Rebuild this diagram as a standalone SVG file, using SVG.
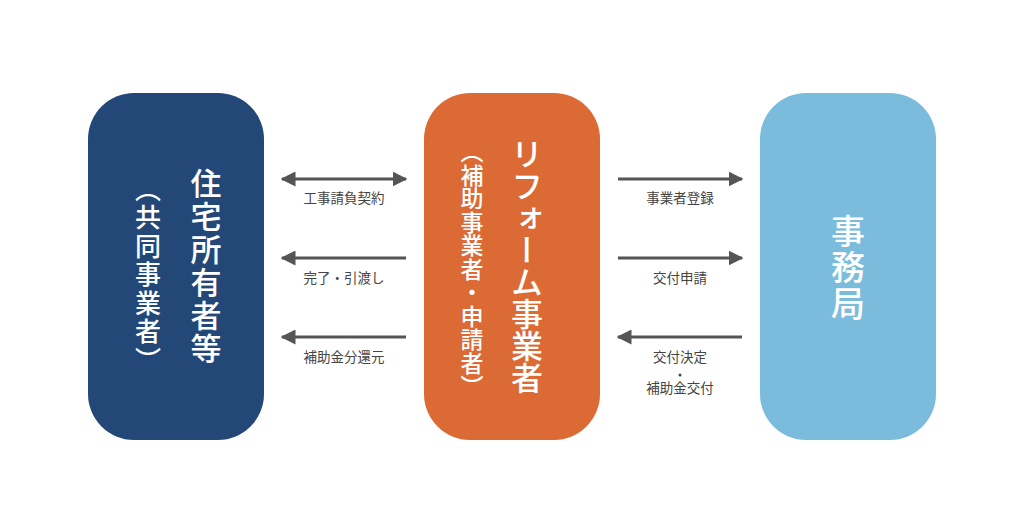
<svg xmlns="http://www.w3.org/2000/svg" width="1024" height="532" viewBox="0 0 1024 532">
<style>
.v{writing-mode:vertical-rl;fill:#fff;font-family:"Noto Sans CJK JP",sans-serif;font-weight:500}
.l{font-family:"Noto Sans CJK JP",sans-serif;font-size:13.5px;fill:#444;text-anchor:middle}
.c{stroke:#555;stroke-width:3;fill:none}
</style>
<defs>
<marker id="a" viewBox="0 0 10 10" refX="9" refY="5" markerWidth="5" markerHeight="5" orient="auto-start-reverse" markerUnits="strokeWidth"><path d="M0,0L10,5L0,10z" fill="#555"/></marker>
</defs>
<rect width="1024" height="532" fill="#fff"/>
<g id="owner"><rect x="88" y="93" width="176" height="347" rx="46" fill="#234878"/>
<text class="v" x="206" y="168" font-size="31" letter-spacing="2">住宅所有者等</text>
<text class="v" x="148" y="176" font-size="26" letter-spacing="2.5">（共同事業者）</text></g>
<g id="reform"><rect x="424" y="93" width="176" height="347" rx="46" fill="#dc6a35"/>
<text class="v" x="527" y="138" font-size="32">リフォーム事業者</text>
<text class="v" x="472" y="140" font-size="23" letter-spacing="0.5">（補助事業者・申請者）</text></g>
<g id="office"><rect x="760" y="93" width="176" height="347" rx="46" fill="#7bbcdd"/>
<text class="v" x="848" y="214" font-size="34" letter-spacing="2">事務局</text></g>
<g id="connectors">
<line class="c" x1="282" y1="179" x2="406" y2="179" marker-start="url(#a)" marker-end="url(#a)"/>
<line class="c" x1="282" y1="258" x2="406" y2="258" marker-start="url(#a)"/>
<line class="c" x1="282" y1="337" x2="406" y2="337" marker-start="url(#a)"/>
<line class="c" x1="618" y1="179" x2="742" y2="179" marker-end="url(#a)"/>
<line class="c" x1="618" y1="258" x2="742" y2="258" marker-end="url(#a)"/>
<line class="c" x1="618" y1="337" x2="742" y2="337" marker-start="url(#a)"/>
</g>
<g>
<text class="l" x="344" y="203">工事請負契約</text>
<text class="l" x="344" y="283">完了・引渡し</text>
<text class="l" x="344" y="362">補助金分還元</text>
<text class="l" x="680" y="203">事業者登録</text>
<text class="l" x="680" y="283">交付申請</text>
<text class="l" x="680" y="362">交付決定</text>
<circle cx="680" cy="375" r="1.5" fill="#444"/>
<text class="l" x="680" y="393">補助金交付</text>
</g>
</svg>
